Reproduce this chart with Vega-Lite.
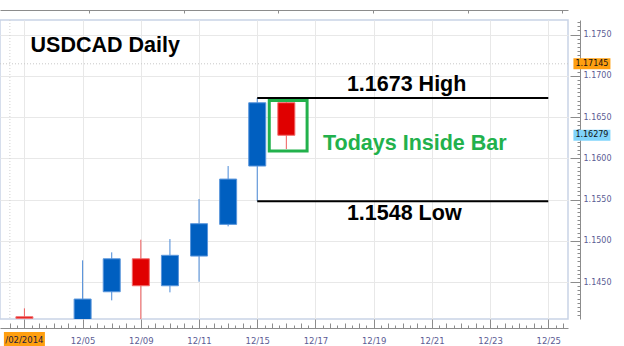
{
  "$schema": "https://vega.github.io/schema/vega-lite/v6.json",
  "width": 568,
  "height": 299,
  "autosize": {"type": "none"},
  "padding": {"left": 0, "top": 20, "right": 56, "bottom": 27},
  "background": "white",
  "data": {"values": [{}]},
  "config": {
    "view": {"stroke": "#c9d3e6", "strokeWidth": 1.5},
    "axis": {
      "labelFont": "DejaVu Sans",
      "labelFontSize": 8,
      "labelColor": "#5c5c94",
      "domainColor": "#8c8c8c",
      "tickColor": "#8c8c8c",
      "gridColor": "#e8e8e8",
      "title": null
    }
  },
  "datasets": {
    "candles": [
      {"slot": 0, "open": 1.14079, "high": 1.14181, "low": 1.1406, "close": 1.1406},
      {"slot": 2, "open": 1.1402, "high": 1.14763, "low": 1.1398, "close": 1.14294},
      {"slot": 3, "open": 1.14382, "high": 1.1486, "low": 1.14278, "close": 1.14782},
      {"slot": 4, "open": 1.14782, "high": 1.15013, "low": 1.1404, "close": 1.14455},
      {"slot": 5, "open": 1.14455, "high": 1.15021, "low": 1.14375, "close": 1.14824},
      {"slot": 6, "open": 1.14815, "high": 1.15506, "low": 1.14504, "close": 1.15207},
      {"slot": 7, "open": 1.15199, "high": 1.15906, "low": 1.15175, "close": 1.15748},
      {"slot": 8, "open": 1.15906, "high": 1.1673, "low": 1.1548, "close": 1.16673},
      {"slot": 9, "open": 1.16673, "high": 1.16694, "low": 1.16112, "close": 1.16279}
    ],
    "levels": [
      {"name": "High", "level": 1.1673, "from": 8, "to": 18},
      {"name": "Low", "level": 1.1548, "from": 8, "to": 18}
    ],
    "tags": [
      {"price": 1.17145, "kind": "marker"},
      {"price": 1.16279, "kind": "current"}
    ]
  },
  "resolve": {"axis": {"x": "independent", "y": "independent"}},
  "layer": [
    {
      "mark": {"type": "rule", "color": "#c8c8c8", "strokeDash": [1, 2]},
      "encoding": {
        "y": {"datum": 1.17145, "type": "quantitative", "scale": {"domain": [1.14052, 1.17676], "nice": false, "zero": false}, "axis": null}
      }
    },
    {
      "mark": {"type": "rule", "color": "#d0d0d0", "strokeDash": [1, 2]},
      "encoding": {
        "x": {"datum": -0.5, "type": "quantitative", "scale": {"domain": [-0.667, 18.506], "nice": false, "zero": false}, "axis": null}
      }
    },
    {
      "data": {"name": "candles"},
      "mark": {"type": "rule", "clip": true, "strokeWidth": 1},
      "encoding": {
        "x": {
          "field": "slot", "type": "quantitative",
          "scale": {"domain": [-0.667, 18.506], "nice": false, "zero": false},
          "axis": {
            "orient": "bottom", "offset": 9, "grid": true,
            "values": [0, 2, 4, 6, 8, 10, 12, 14, 16, 18],
            "labelExpr": "['', '12/05', '12/09', '12/11', '12/15', '12/17', '12/19', '12/21', '12/23', '12/25'][datum.value / 2]",
            "labelFontSize": 8.5,
            "tickSize": -9, "labelPadding": 17
          }
        },
        "y": {
          "field": "low", "type": "quantitative",
          "scale": {"domain": [1.14052, 1.17676], "nice": false, "zero": false},
          "axis": {
            "orient": "right", "offset": 12, "grid": true,
            "values": [1.145, 1.15, 1.155, 1.16, 1.165, 1.17, 1.175],
            "format": ".4f", "tickSize": -10, "labelPadding": 13
          }
        },
        "y2": {"field": "high"},
        "color": {"condition": {"test": "datum.close < datum.open", "value": "#ee5c5c"}, "value": "#4a8ad8"}
      }
    },
    {
      "data": {"name": "candles"},
      "mark": {"type": "bar", "clip": true, "size": 17, "strokeWidth": 1},
      "encoding": {
        "x": {
          "field": "slot", "type": "quantitative",
          "scale": {"domain": [-0.667, 18.506], "nice": false, "zero": false},
          "axis": {"orient": "bottom", "offset": 9, "grid": false, "domain": false, "labels": false, "tickCount": 38, "tickSize": -5}
        },
        "y": {
          "field": "open", "type": "quantitative",
          "scale": {"domain": [1.14052, 1.17676], "nice": false, "zero": false},
          "axis": {"orient": "right", "offset": 12, "grid": false, "domain": false, "labels": false, "tickCount": 72, "tickSize": -3}
        },
        "y2": {"field": "close"},
        "fill": {"condition": {"test": "datum.close < datum.open", "value": "#e00000"}, "value": "#005fc0"},
        "stroke": {"condition": {"test": "datum.close < datum.open", "value": "#f26a6a"}, "value": "#5a96dc"}
      }
    },
    {
      "mark": {"type": "rect", "fillOpacity": 0, "stroke": "#22b14c", "strokeWidth": 3},
      "encoding": {
        "x": {
          "datum": 8.413, "type": "quantitative",
          "scale": {"domain": [-0.667, 18.506], "nice": false, "zero": false},
          "axis": {
            "orient": "bottom", "offset": 9, "grid": false, "domain": false, "labels": false, "tickSize": -3,
            "values": [-0.25, 0.25, 0.75, 1.25, 1.75, 2.25, 2.75, 3.25, 3.75, 4.25, 4.75, 5.25, 5.75, 6.25, 6.75, 7.25, 7.75, 8.25, 8.75, 9.25, 9.75, 10.25, 10.75, 11.25, 11.75, 12.25, 12.75, 13.25, 13.75, 14.25, 14.75, 15.25, 15.75, 16.25, 16.75, 17.25, 17.75, 18.25]
          }
        },
        "x2": {"datum": 9.713},
        "y": {"datum": 1.167, "type": "quantitative", "scale": {"domain": [1.14052, 1.17676], "nice": false, "zero": false}, "axis": null},
        "y2": {"datum": 1.16088}
      }
    },
    {
      "data": {"name": "levels"},
      "mark": {"type": "rule", "color": "#000000", "strokeWidth": 2},
      "encoding": {
        "x": {
          "field": "from", "type": "quantitative",
          "scale": {"domain": [-0.667, 18.506], "nice": false, "zero": false},
          "axis": {"orient": "top", "offset": 10, "grid": false, "labels": false, "tickSize": -3, "values": [2.236, 5.48, 8.717, 11.99, 15.23, 18.48]}
        },
        "x2": {"field": "to"},
        "y": {"field": "level", "type": "quantitative", "scale": {"domain": [1.14052, 1.17676], "nice": false, "zero": false}, "axis": null}
      }
    },
    {
      "mark": {"type": "text", "text": "USDCAD Daily", "align": "left", "baseline": "alphabetic", "font": "Liberation Sans", "fontSize": 21.5, "fontWeight": "bold", "color": "#000000"},
      "encoding": {
        "x": {"datum": 0.211, "type": "quantitative", "scale": {"domain": [-0.667, 18.506], "nice": false, "zero": false}, "axis": null},
        "y": {"datum": 1.17284, "type": "quantitative", "scale": {"domain": [1.14052, 1.17676], "nice": false, "zero": false}, "axis": null}
      }
    },
    {
      "mark": {"type": "text", "text": "1.1673 High", "align": "left", "baseline": "alphabetic", "font": "Liberation Sans", "fontSize": 21.5, "fontWeight": "bold", "color": "#000000"},
      "encoding": {
        "x": {"datum": 11.08, "type": "quantitative", "scale": {"domain": [-0.667, 18.506], "nice": false, "zero": false}, "axis": null},
        "y": {"datum": 1.16819, "type": "quantitative", "scale": {"domain": [1.14052, 1.17676], "nice": false, "zero": false}, "axis": null}
      }
    },
    {
      "mark": {"type": "text", "text": "1.1548 Low", "align": "left", "baseline": "alphabetic", "font": "Liberation Sans", "fontSize": 21.5, "fontWeight": "bold", "color": "#000000"},
      "encoding": {
        "x": {"datum": 11.08, "type": "quantitative", "scale": {"domain": [-0.667, 18.506], "nice": false, "zero": false}, "axis": null},
        "y": {"datum": 1.15255, "type": "quantitative", "scale": {"domain": [1.14052, 1.17676], "nice": false, "zero": false}, "axis": null}
      }
    },
    {
      "mark": {"type": "text", "text": "Todays Inside Bar", "align": "left", "baseline": "alphabetic", "font": "Liberation Sans", "fontSize": 21.5, "fontWeight": "bold", "color": "#22b14c"},
      "encoding": {
        "x": {"datum": 10.26, "type": "quantitative", "scale": {"domain": [-0.667, 18.506], "nice": false, "zero": false}, "axis": null},
        "y": {"datum": 1.161, "type": "quantitative", "scale": {"domain": [1.14052, 1.17676], "nice": false, "zero": false}, "axis": null}
      }
    },
    {
      "data": {"name": "tags"},
      "mark": {"type": "point", "filled": true, "opacity": 1, "shape": "M-1,-0.3H1V0.3H-1Z", "size": 1369, "strokeWidth": 0},
      "encoding": {
        "x": {"datum": 19.5, "type": "quantitative", "scale": {"domain": [-0.667, 18.506], "nice": false, "zero": false}, "axis": null},
        "y": {"field": "price", "type": "quantitative", "scale": {"domain": [1.14052, 1.17676], "nice": false, "zero": false}, "axis": null},
        "color": {"condition": {"test": "datum.kind === 'current'", "value": "#80d4fb"}, "value": "#ff9f10"}
      }
    },
    {
      "data": {"name": "tags"},
      "mark": {"type": "text", "font": "DejaVu Sans", "fontSize": 8, "color": "#111111", "align": "center", "baseline": "middle"},
      "encoding": {
        "x": {"datum": 19.5, "type": "quantitative", "scale": {"domain": [-0.667, 18.506], "nice": false, "zero": false}, "axis": null},
        "y": {"field": "price", "type": "quantitative", "scale": {"domain": [1.14052, 1.17676], "nice": false, "zero": false}, "axis": null},
        "text": {"field": "price", "type": "quantitative", "format": ".5f"}
      }
    },
    {
      "mark": {"type": "point", "filled": true, "opacity": 1, "shape": "M-1,-0.366H1V0.366H-1Z", "size": 1681, "strokeWidth": 0, "color": "#ff9f10"},
      "encoding": {
        "x": {"datum": 0, "type": "quantitative", "scale": {"domain": [-0.667, 18.506], "nice": false, "zero": false}, "axis": null},
        "y": {"datum": 1.13803, "type": "quantitative", "scale": {"domain": [1.14052, 1.17676], "nice": false, "zero": false}, "axis": null}
      }
    },
    {
      "mark": {"type": "text", "text": "/02/2014", "font": "DejaVu Sans", "fontSize": 8.5, "color": "#1c1c3c", "align": "center", "baseline": "middle"},
      "encoding": {
        "x": {"datum": 0, "type": "quantitative", "scale": {"domain": [-0.667, 18.506], "nice": false, "zero": false}, "axis": null},
        "y": {"datum": 1.13803, "type": "quantitative", "scale": {"domain": [1.14052, 1.17676], "nice": false, "zero": false}, "axis": null}
      }
    }
  ]
}
